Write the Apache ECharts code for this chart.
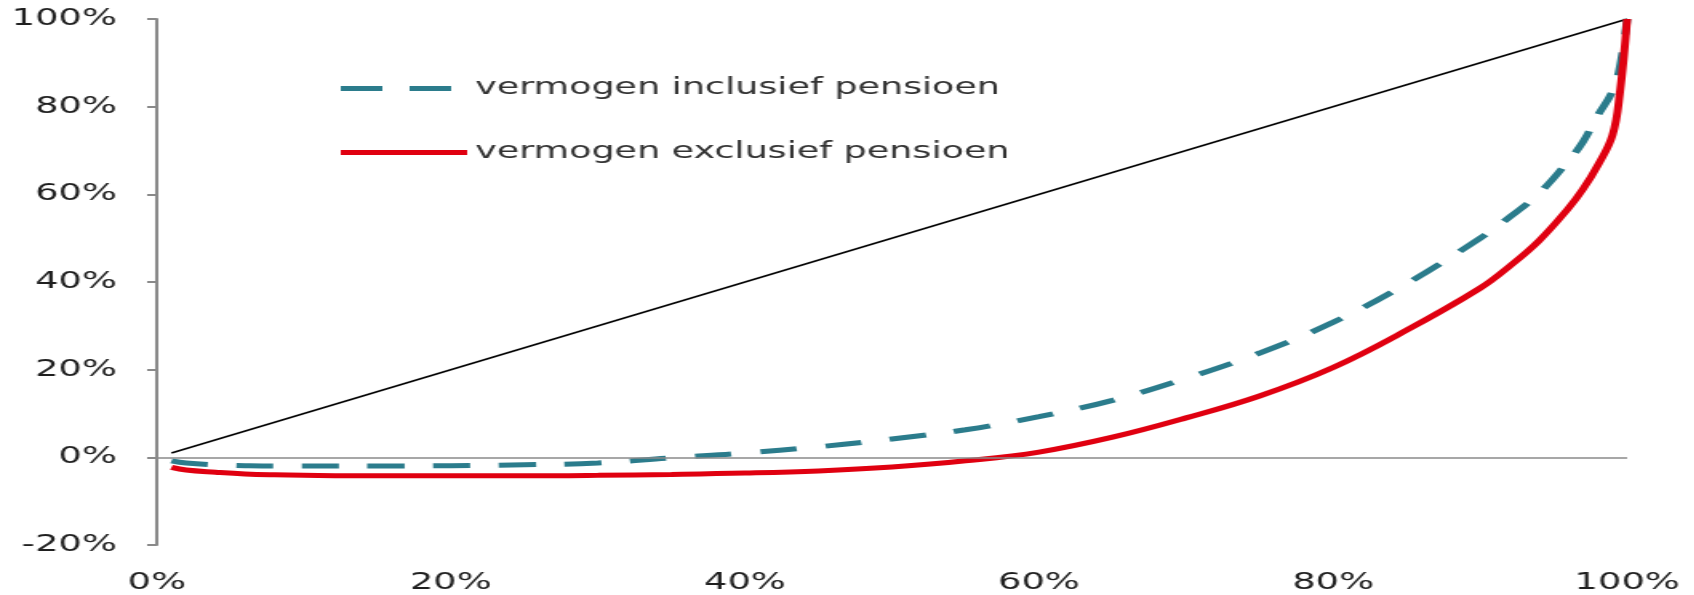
<!DOCTYPE html>
<html>
<head>
<meta charset="utf-8">
<script src="https://cdn.jsdelivr.net/npm/echarts@6/dist/echarts.min.js"></script>
<style>
  html, body { margin: 0; padding: 0; background: #fff; overflow: hidden; }
  /* the reference picture is stretched sideways, so the chart is drawn narrow and widened */
  #main { width: 1059px; height: 595px; transform: scaleX(1.6); transform-origin: 0 0; }
</style>
</head>
<body>
<div id="main"></div>
<script>
// share of households (x, %)
var shares = [1, 2, 4, 6, 8, 10, 15, 20, 25, 30, 35, 40, 45, 50, 55, 60, 65, 70, 75, 80, 85, 90, 92, 94, 96, 97, 98, 99, 99.5, 100];
// cumulative share of wealth (y, %)
var inclusief = [-0.8, -1.3, -1.7, -1.9, -2.0, -2.0, -2.0, -1.9, -1.7, -1.3, -0.1, 1.0, 2.4, 4.2, 6.3, 9.3, 13.0, 18.0, 23.8, 30.8, 39.6, 50.0, 54.8, 60.2, 67.6, 72.0, 78.0, 83.5, 89.0, 100];
var exclusief = [-2.3, -2.9, -3.4, -3.8, -4.0, -4.1, -4.2, -4.2, -4.2, -4.1, -3.9, -3.6, -3.1, -2.2, -0.8, 1.2, 4.6, 9.0, 14.0, 20.5, 29.0, 38.6, 43.6, 49.4, 56.8, 61.2, 66.6, 73.5, 83.0, 100];
// line of equal distribution
var equalX = [1, 100];
var equalY = [1, 100];

var xTicks = { min: 0, max: 100, step: 20 };
var yTicks = { min: -20, max: 100, step: 20 };
var names = ['vermogen inclusief pensioen', 'vermogen exclusief pensioen'];

function pairs(xs, ys) {
  var out = [];
  for (var i = 0; i < xs.length; i++) out.push([xs[i], ys[i]]);
  return out;
}

var font = 'DejaVu Sans';
var chart = echarts.init(document.getElementById('main'));
chart.setOption({
  animation: false,
  backgroundColor: '#fff',
  grid: { left: 98, right: 42, top: 19, bottom: 48, containLabel: false },
  legend: {
    data: [
      { name: names[0], icon: 'path://M0,0H26V5H0Z M43,0H69V5H43Z M79,0H79.01V0.01H79Z' },
      { name: names[1], icon: 'path://M0,0H79V5H0Z' }
    ],
    orient: 'vertical',
    left: 208,
    top: 72,
    itemWidth: 79,
    itemHeight: 5,
    itemGap: 41,
    symbolKeepAspect: false,
    textStyle: { fontFamily: font, fontSize: 22.8, color: '#333' }
  },
  xAxis: {
    type: 'value',
    min: xTicks.min, max: xTicks.max, interval: xTicks.step,
    axisLine: { show: false },
    axisTick: { show: false },
    splitLine: { show: false },
    axisLabel: { formatter: '{value}%', margin: 27, fontFamily: font, fontSize: 23, color: '#1f1f1f' }
  },
  yAxis: {
    type: 'value',
    min: yTicks.min, max: yTicks.max, interval: yTicks.step,
    axisLine: { show: true, onZero: false, lineStyle: { color: '#8a8a8a', width: 2 } },
    axisTick: { show: true, length: 6, lineStyle: { color: '#8a8a8a', width: 2 } },
    splitLine: { show: false },
    axisLabel: { formatter: '{value}%', margin: 25, fontFamily: font, fontSize: 23, color: '#1f1f1f' }
  },
  series: [
    {
      name: 'gelijk',
      type: 'line',
      data: pairs(equalX, equalY),
      symbol: 'none',
      lineStyle: { color: '#000', width: 1.5 },
      markLine: {
        silent: true,
        symbol: 'none',
        label: { show: false },
        lineStyle: { color: '#8a8a8a', width: 1.5, type: 'solid' },
        data: [{ yAxis: 0 }]
      },
      z: 2
    },
    {
      name: names[0],
      type: 'line',
      data: pairs(shares, inclusief),
      symbol: 'none',
      smooth: 0.4,
      itemStyle: { color: '#2b7c8c' },
      lineStyle: { color: '#2b7c8c', width: 5, type: [23, 18] },
      z: 3
    },
    {
      name: names[1],
      type: 'line',
      data: pairs(shares, exclusief),
      symbol: 'none',
      smooth: 0.4,
      itemStyle: { color: '#e00010' },
      lineStyle: { color: '#e00010', width: 5 },
      z: 4
    }
  ]
});
</script>
</body>
</html>
